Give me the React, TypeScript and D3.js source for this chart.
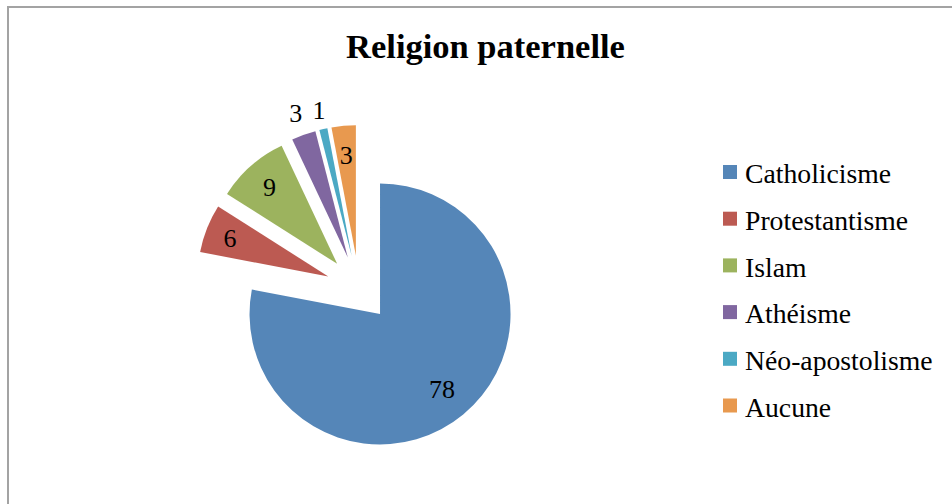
import React from "react";
import * as d3 from "d3";

const categories = ["Catholicisme", "Protestantisme", "Islam", "Athéisme", "Néo-apostolisme", "Aucune"];
const values = [78, 6, 9, 3, 1, 3];
const colors = ["#5586B8", "#BC5A52", "#9CB35E", "#8067A0", "#4BA9C4", "#E8994F"];
const title = "Religion paternelle";

// layout constants
const W = 952;
const H = 504;
const R = 130.5;
const CX = 359;
const CY = 288.6;
const EXPLODE = 33;
const labelFactor = [0.745, 0.81, 0.785, 1.18, 1.15, 0.777];
const FONT = "'Liberation Serif', 'Times New Roman', serif";

export default function App() {
  const pie = d3
    .pie<number>()
    .sort(null)
    .value((d) => d)
    .startAngle(0)
    .endAngle(2 * Math.PI);
  const arcs = pie(values);
  const arc = d3.arc<d3.PieArcDatum<number>>().innerRadius(0).outerRadius(R);

  const legendX = 723;
  const legendY0 = 165;
  const legendStep = 46.7;

  return (
    <svg
      width={W}
      height={H}
      viewBox={`0 0 ${W} ${H}`}
      style={{ position: "absolute", left: 0, top: 0, background: "#fff" }}
    >
      <rect x={0} y={0} width={W} height={H} fill="#fff" />
      <path d={`M8,${H} L8,7 L${W},7`} fill="none" stroke="#A3A3A3" strokeWidth={2} />
      <text
        x={485.5}
        y={57.7}
        textAnchor="middle"
        fontFamily={FONT}
        fontWeight="bold"
        fontSize={34.5}
        fill="#000"
      >
        {title}
      </text>
      {arcs.map((a, i) => {
        const mid = (a.startAngle + a.endAngle) / 2;
        const dx = Math.sin(mid);
        const dy = -Math.cos(mid);
        const ox = CX + EXPLODE * dx;
        const oy = CY + EXPLODE * dy;
        const lx = ox + labelFactor[i] * R * dx;
        const ly = oy + labelFactor[i] * R * dy;
        return (
          <g key={categories[i]}>
            <path d={arc(a) || ""} transform={`translate(${ox},${oy})`} fill={colors[i]} />
            <text
              x={lx}
              y={ly + 9}
              textAnchor="middle"
              fontFamily={FONT}
              fontSize={26}
              fill="#000"
            >
              {values[i]}
            </text>
          </g>
        );
      })}
      {categories.map((c, i) => (
        <g key={c}>
          <rect x={legendX} y={legendY0 + i * legendStep} width={14} height={14} fill={colors[i]} />
          <text
            x={745}
            y={legendY0 + 18.3 + i * legendStep}
            fontFamily={FONT}
            fontSize={27.7}
            fill="#000"
          >
            {c}
          </text>
        </g>
      ))}
    </svg>
  );
}
